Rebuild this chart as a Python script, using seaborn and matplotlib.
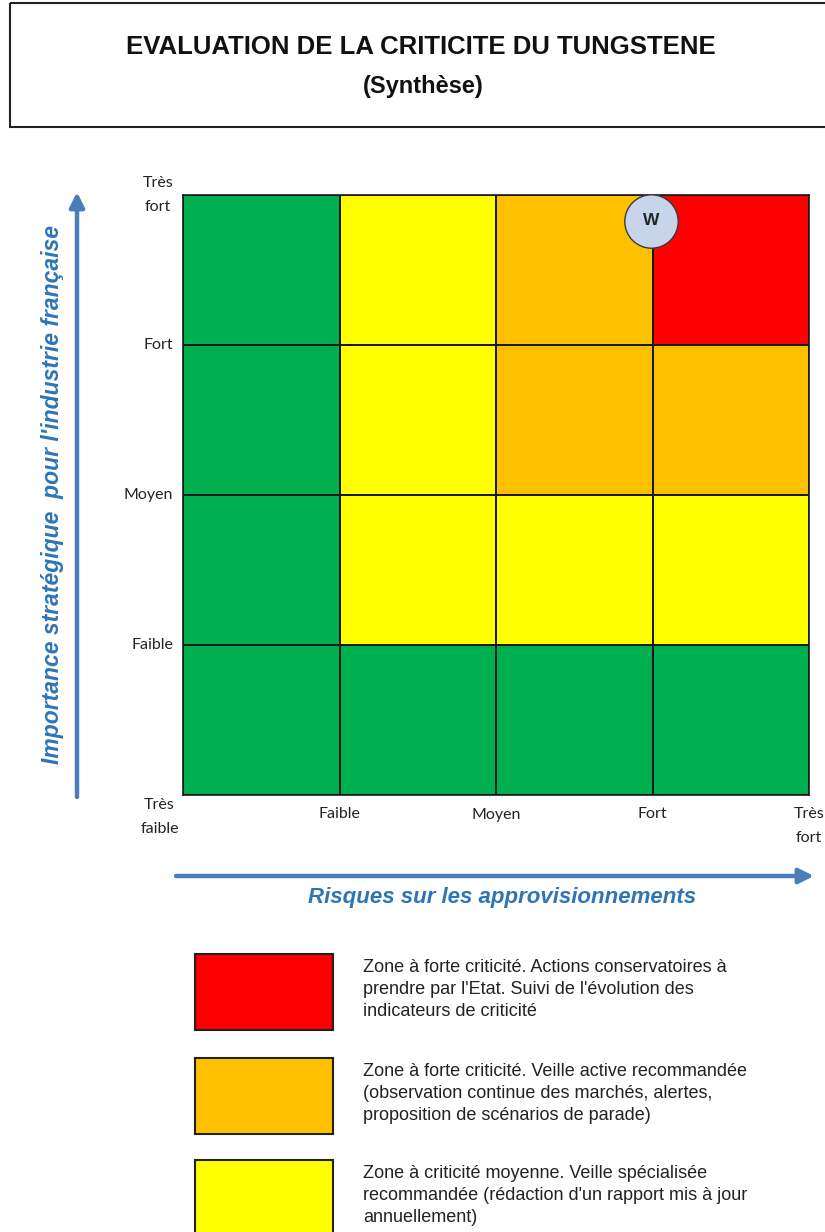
import numpy as np
import pandas as pd
import matplotlib
matplotlib.use("Agg")
import matplotlib.pyplot as plt
from matplotlib.colors import ListedColormap
from matplotlib.patches import Rectangle
import seaborn as sns

# ---------------- data ----------------
title = "EVALUATION DE LA CRITICITE DU TUNGSTENE"
subtitle = "(Synthèse)"
x_label = "Risques sur les approvisionnements"
y_label = "Importance stratégique  pour l'industrie française"

risk_ticks = ["Faible", "Moyen", "Fort", "Très\nfort"]
importance_ticks = ["Très\nfort", "Fort", "Moyen", "Faible"]
corner_label = "Très\nfaible"

# zone code per cell, rows from top (Très fort) to bottom, columns left to right
# 0 = green, 1 = yellow, 2 = orange, 3 = red
zones = [
    [0, 1, 2, 3],
    [0, 1, 2, 2],
    [0, 1, 1, 1],
    [0, 0, 0, 0],
]
zone_colors = ["#00B050", "#FFFF00", "#FFC000", "#FF0000"]

# tungsten position (risk 0..4, importance 0..4)
element_name = "W"
element_risk = 2.99
element_importance = 3.83

legend_colors = ["#FF0000", "#FFC000", "#FFFF00"]
legend_texts = [
    ["Zone à forte criticité. Actions conservatoires à",
     "prendre par l'Etat. Suivi de l'évolution des",
     "indicateurs de criticité"],
    ["Zone à forte criticité. Veille active recommandée",
     "(observation continue des marchés, alertes,",
     "proposition de scénarios de parade)"],
    ["Zone à criticité moyenne. Veille spécialisée",
     "recommandée (rédaction d'un rapport mis à jour",
     "annuellement)"],
]

# ---------------- figure ----------------
sns.set_theme(style="white")
plt.rcParams["font.family"] = ["Liberation Sans", "DejaVu Sans"]

W, H = 825, 1232
fig = plt.figure(figsize=(W / 100, H / 100), dpi=100)
fig.patch.set_facecolor("white")

# overlay axes in pixel coordinates
ov = fig.add_axes([0, 0, 1, 1])
ov.set_xlim(0, W)
ov.set_ylim(H, 0)
ov.axis("off")

# heatmap axes
left, right, top, bottom = 183, 809, 195, 795
ax = fig.add_axes([left / W, 1 - bottom / H, (right - left) / W, (bottom - top) / H])
df = pd.DataFrame(zones)
sns.heatmap(df, ax=ax, cmap=ListedColormap(zone_colors), vmin=-0.5, vmax=3.5,
            cbar=False, linewidths=1.2, linecolor="#1a1a1a", square=False)

lab_font = dict(family=["Lato", "DejaVu Sans"], size=11.5, color="#222222")
ax.set_xticks(range(1, 5))
ax.set_xticklabels(risk_ticks, rotation=0, linespacing=1.9, **lab_font)
ax.set_yticks(range(0, 4))
ax.set_yticklabels(importance_ticks, rotation=0, multialignment="center",
                   linespacing=1.9, **lab_font)
for t in ax.get_xticklabels():
    t.set_multialignment("center")
ax.tick_params(axis="x", length=0, pad=9)
ax.tick_params(axis="y", length=4, width=1, color="#222222", pad=3)
ax.set_xlabel("")
ax.set_ylabel("")
ax.text(-0.15, 4.02, corner_label, ha="center", va="top", multialignment="center",
        linespacing=1.9, clip_on=False, **lab_font)
for s in ax.spines.values():
    s.set_visible(True)
    s.set_color("#1a1a1a")
    s.set_linewidth(1.2)

# W marker
ax.scatter([element_risk], [4 - element_importance], s=1480, c="#C8D4EA",
           edgecolors="#3a3a3a", linewidths=1.0, zorder=5, clip_on=False)
ax.text(element_risk, 4 - element_importance, element_name, ha="center", va="center",
        fontsize=12.5, fontweight="bold", color="#262626", zorder=6)

# title box
ov.add_patch(Rectangle((10, 3), 830, 124, fill=False, edgecolor="#222222", lw=1.5))
ov.text(421, 47, title, ha="center", va="center", fontsize=18.5, fontweight="bold",
        color="#111111")
ov.text(423, 87, subtitle, ha="center", va="center", fontsize=17, fontweight="bold",
        color="#111111")

# axis arrows
arrow_col = "#4A7EBB"
label_col = "#2E75B6"
ov.annotate("", xy=(77, 192), xytext=(77, 797),
            arrowprops=dict(arrowstyle="-|>", lw=3.2, color=arrow_col, mutation_scale=22,
                            shrinkA=0, shrinkB=0))
ov.annotate("", xy=(814, 876), xytext=(176, 876),
            arrowprops=dict(arrowstyle="-|>", lw=3.2, color=arrow_col, mutation_scale=22,
                            shrinkA=0, shrinkB=0))
ov.text(53, 494, y_label, rotation=90, ha="center", va="center", fontsize=16.5,
        fontweight="bold", fontstyle="italic", color=label_col)
ov.text(502, 898, x_label, ha="center", va="center", fontsize=16,
        fontweight="bold", fontstyle="italic", color=label_col)

# legend
box_tops = [954, 1058, 1160]
for col, top_y, lines in zip(legend_colors, box_tops, legend_texts):
    ov.add_patch(Rectangle((195, top_y), 138, 76, facecolor=col, edgecolor="#222222", lw=1.5))
    for i, line in enumerate(lines):
        ov.text(363, top_y + 13 + 22 * i, line, ha="left", va="center", fontsize=13,
                family=["Liberation Sans", "DejaVu Sans"], color="#222222")

fig.savefig("out.png", dpi=100, facecolor="white")
